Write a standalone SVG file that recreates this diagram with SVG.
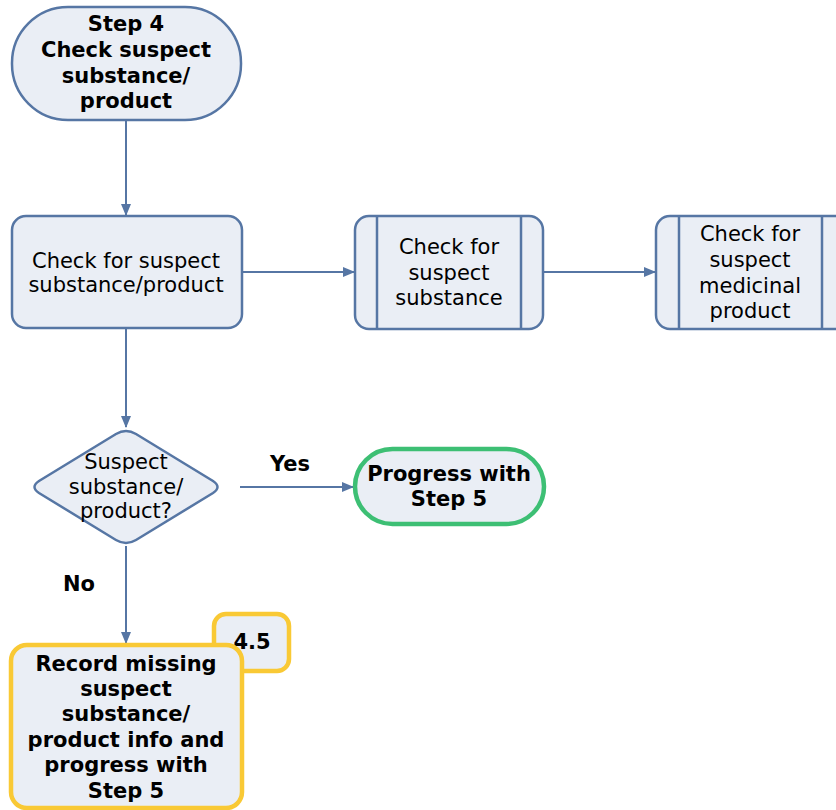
<svg xmlns="http://www.w3.org/2000/svg" width="836" height="810" viewBox="0 0 836 810">
<style>
.n{fill:#EAEEF5;stroke:#5676A4;stroke-width:2.5}
.g{fill:#EAEEF5;stroke:#3DBF74;stroke-width:4.5}
.y{fill:#EAEEF5;stroke:#F9C935;stroke-width:4.5}
.c{stroke:#5676A4;stroke-width:2;fill:none;marker-end:url(#a)}
text{font-family:"DejaVu Sans",Verdana,sans-serif;font-size:21px;fill:#000;text-anchor:middle}
.b{font-weight:bold}
</style>
<defs>
<marker id="a" markerWidth="12" markerHeight="10" refX="11" refY="5" orient="auto" markerUnits="userSpaceOnUse">
<path d="M0,0 L12,5 L0,10 Z" fill="#5676A4"/>
</marker>
</defs>
<rect width="836" height="810" fill="#fff"/>
<g id="connectors">
<line class="c" x1="126" y1="121" x2="126" y2="215"/>
<line class="c" x1="243" y1="272" x2="354" y2="272"/>
<line class="c" x1="544" y1="272" x2="655" y2="272"/>
<line class="c" x1="126" y1="329" x2="126" y2="427"/>
<line class="c" x1="240" y1="487" x2="353" y2="487"/>
<line class="c" x1="126" y1="546" x2="126" y2="643"/>
<text class="b" x="290" y="471">Yes</text>
<text class="b" x="79" y="591">No</text>
</g>
<g id="step4">
<rect class="n" x="12" y="7" width="229" height="113" rx="56" ry="56"/>
<text class="b" x="126" y="31">Step 4</text>
<text class="b" x="126" y="57">Check suspect</text>
<text class="b" x="126" y="83">substance/</text>
<text class="b" x="126" y="108">product</text>
</g>
<g id="check">
<rect class="n" x="12" y="216" width="230" height="112" rx="14"/>
<text x="126" y="268">Check for suspect</text>
<text x="126" y="292">substance/product</text>
</g>
<g id="checkSubstance">
<rect class="n" x="355" y="216" width="188" height="113" rx="14"/>
<line class="n" x1="377" y1="216" x2="377" y2="329"/>
<line class="n" x1="521" y1="216" x2="521" y2="329"/>
<text x="449" y="254">Check for</text>
<text x="449" y="280">suspect</text>
<text x="449" y="305">substance</text>
</g>
<g id="checkMedicinal">
<rect class="n" x="656" y="216" width="194" height="113" rx="14"/>
<line class="n" x1="679" y1="216" x2="679" y2="329"/>
<line class="n" x1="822" y1="216" x2="822" y2="329"/>
<text x="750" y="241">Check for</text>
<text x="750" y="267">suspect</text>
<text x="750" y="293">medicinal</text>
<text x="750" y="318">product</text>
</g>
<g id="decision">
<path class="n" d="M116,434 Q126,428 136,434 L213,481 Q222,487 213,493 L136,540 Q126,546 116,540 L39,493 Q30,487 39,481 Z"/>
<text x="126" y="469">Suspect</text>
<text x="126" y="494">substance/</text>
<text x="126" y="518">product?</text>
</g>
<g id="progress">
<rect class="g" x="355" y="449" width="189" height="75" rx="37.5"/>
<text class="b" x="449" y="481">Progress with</text>
<text class="b" x="449" y="506">Step 5</text>
</g>
<g id="badge">
<rect class="y" x="214" y="614" width="75" height="57" rx="12"/>
<text class="b" x="252" y="649">4.5</text>
</g>
<g id="record">
<rect class="y" x="11" y="645" width="231" height="163" rx="16"/>
<text class="b" x="126" y="671">Record missing</text>
<text class="b" x="126" y="696">suspect</text>
<text class="b" x="126" y="721">substance/</text>
<text class="b" x="126" y="747">product info and</text>
<text class="b" x="126" y="772">progress with</text>
<text class="b" x="126" y="798">Step 5</text>
</g>
</svg>
